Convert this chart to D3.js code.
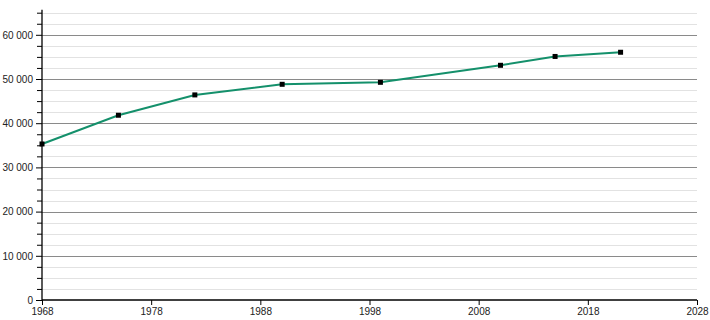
<!DOCTYPE html>
<html><head><meta charset="utf-8">
<script src="https://cdn.jsdelivr.net/npm/d3@7"></script>
<style>body{margin:0;background:#fff}</style>
</head><body>
<svg id="c" width="710" height="320"></svg>
<script>
const years = [1968, 1975, 1982, 1990, 1999, 2010, 2015, 2021];
const population = [35300, 41800, 46400, 48800, 49250, 53100, 55100, 56050];
const xTicks = [1968, 1978, 1988, 1998, 2008, 2018, 2028];
const yMajorTicks = [0, 10000, 20000, 30000, 40000, 50000, 60000];

(function () {
const svg = d3.select("#c");
const mL = 42, mR = 697, mT = 12.7, mB = 300;
const x = d3.scaleLinear().domain([1968, 2028]).range([mL, mR]);
const y = d3.scaleLinear().domain([0, 65000]).range([mB, mT]);
const fmt = v => d3.format(",")(v).replace(/,/g, " ");

const minor = d3.range(0, 65001, 2500);
svg.append("g").selectAll("line").data(minor.filter(v => v % 10000 !== 0)).join("line")
  .attr("x1", mL).attr("x2", mR).attr("y1", d => Math.round(y(d)) + 0.5).attr("y2", d => Math.round(y(d)) + 0.5)
  .attr("stroke", "#e2e2e2").attr("stroke-width", 1);
svg.append("g").selectAll("line").data(yMajorTicks.filter(v => v > 0)).join("line")
  .attr("x1", mL).attr("x2", mR).attr("y1", d => Math.round(y(d)) + 0.5).attr("y2", d => Math.round(y(d)) + 0.5)
  .attr("stroke", "#8a8a8a").attr("stroke-width", 1);

// y axis
const yAxis = d3.axisLeft(y).tickValues(yMajorTicks).tickFormat(fmt).tickSize(6).tickPadding(3);
const gy = svg.append("g").attr("transform", `translate(${mL},0)`).call(yAxis);
gy.select(".domain").attr("stroke", "#000").attr("stroke-width", 1.3).attr("d", `M0,${mB}V${mT - 3}`);
gy.selectAll(".tick line").attr("stroke", "#000");
gy.selectAll("text").attr("font-family", "Liberation Sans, Arial, sans-serif").attr("font-size", 10).attr("fill", "#222");
const gyMinor = svg.append("g").attr("transform", `translate(${mL},0)`)
  .call(d3.axisLeft(y).tickValues(minor.filter(v => v % 10000 !== 0)).tickFormat("").tickSize(5));
gyMinor.select(".domain").remove();
gyMinor.selectAll(".tick line").attr("stroke", "#000");

// x axis
const gx = svg.append("g").attr("transform", `translate(0,${mB})`)
  .call(d3.axisBottom(x).tickValues(xTicks).tickFormat(d3.format("d")).tickSize(5).tickPadding(3));
gx.select(".domain").attr("stroke", "#000").attr("stroke-width", 1.3).attr("d", `M${mL},0H${mR}`);
gx.selectAll(".tick line").attr("stroke", "#000");
gx.selectAll("text").attr("font-family", "Liberation Sans, Arial, sans-serif").attr("font-size", 10).attr("fill", "#222");

const data = years.map((yr, i) => ({yr, v: population[i]}));
svg.append("path").datum(data)
  .attr("fill", "none").attr("stroke", "#14906b").attr("stroke-width", 2)
  .attr("d", d3.line().x(d => x(d.yr)).y(d => y(d.v)));
svg.append("g").selectAll("rect").data(data).join("rect")
  .attr("x", d => x(d.yr) - 2.5).attr("y", d => y(d.v) - 2.5)
  .attr("width", 5).attr("height", 5).attr("fill", "#000");
})();
</script>
</body></html>
